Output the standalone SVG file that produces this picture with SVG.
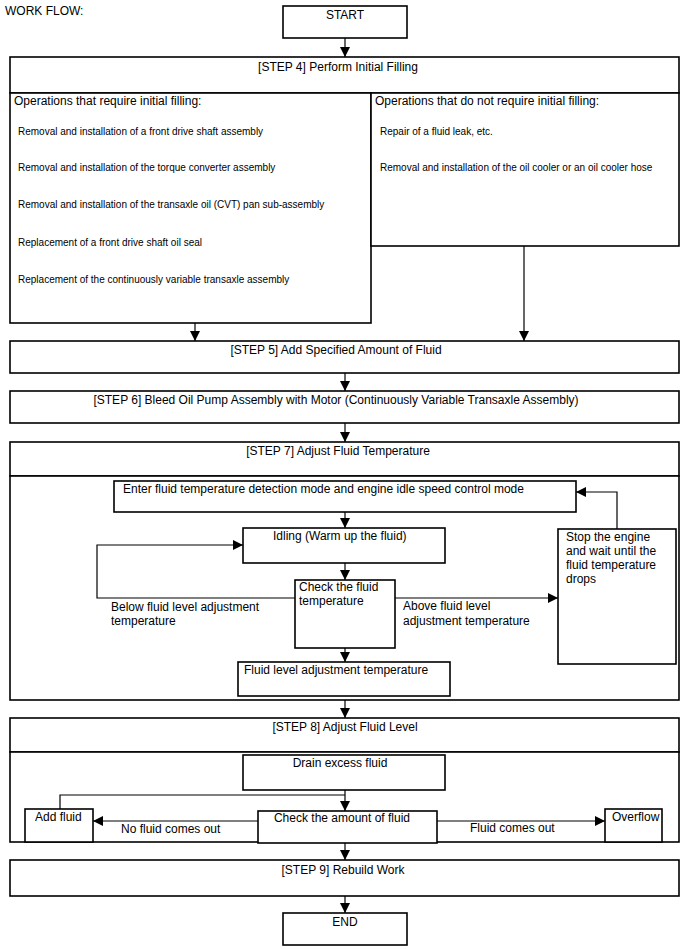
<svg xmlns="http://www.w3.org/2000/svg" width="688" height="949" viewBox="0 0 688 949">
<style>
rect{fill:#fff;stroke:#000;stroke-width:1.6}
text{font-family:"Liberation Sans",Arial,sans-serif;font-size:12px;fill:#000}
.c{text-anchor:middle}
.s{font-size:10px}
.ln{fill:none;stroke:#000;stroke-width:1.2}
</style>
<defs>
<marker id="ar" viewBox="0 0 10 10" refX="10" refY="5" markerWidth="10" markerHeight="10" markerUnits="userSpaceOnUse" orient="auto">
<path d="M0,0 L10,5 L0,10 z" fill="#000"/>
</marker>
</defs>
<text x="5" y="15">WORK FLOW:</text>
<g id="start"><rect x="283" y="6" width="124" height="32"/><text class="c" x="345" y="19">START</text></g>
<g id="step4">
<rect x="10" y="57" width="669" height="36"/><text class="c" x="338" y="71">[STEP 4] Perform Initial Filling</text>
</g>
<g id="req">
<rect x="10" y="93" width="361" height="230"/>
<text x="14" y="105">Operations that require initial filling:</text>
<text class="s" x="18" y="135">Removal and installation of a front drive shaft assembly</text>
<text class="s" x="18" y="171">Removal and installation of the torque converter assembly</text>
<text class="s" x="18" y="208">Removal and installation of the transaxle oil (CVT) pan sub-assembly</text>
<text class="s" x="18" y="246">Replacement of a front drive shaft oil seal</text>
<text class="s" x="18" y="283">Replacement of the continuously variable transaxle assembly</text>
</g>
<g id="noreq">
<rect x="371" y="93" width="308" height="153"/>
<text x="375" y="105">Operations that do not require initial filling:</text>
<text class="s" x="380" y="135">Repair of a fluid leak, etc.</text>
<text class="s" x="380" y="171">Removal and installation of the oil cooler or an oil cooler hose</text>
</g>
<g id="step5"><rect x="10" y="341" width="669" height="32"/><text class="c" x="336" y="354">[STEP 5] Add Specified Amount of Fluid</text></g>
<g id="step6"><rect x="10" y="391" width="669" height="32"/><text class="c" x="336" y="404">[STEP 6] Bleed Oil Pump Assembly with Motor (Continuously Variable Transaxle Assembly)</text></g>
<g id="step7">
<rect x="10" y="442" width="669" height="34"/><text class="c" x="338" y="455">[STEP 7] Adjust Fluid Temperature</text>
<rect x="10" y="476" width="669" height="224"/>
</g>
<g id="enter"><rect x="114" y="481" width="462" height="31"/><text x="123" y="493">Enter fluid temperature detection mode and engine idle speed control mode</text></g>
<g id="idling"><rect x="243" y="528" width="202" height="35"/><text x="273" y="540">Idling (Warm up the fluid)</text></g>
<g id="checktemp"><rect x="295" y="580" width="100" height="68"/><text x="299" y="591">Check the fluid</text><text x="299" y="605">temperature</text></g>
<g id="fltemp"><rect x="238" y="662" width="212" height="34"/><text x="244" y="674">Fluid level adjustment temperature</text></g>
<g id="stop"><rect x="558" y="529" width="118" height="135"/>
<text x="566" y="541">Stop the engine</text><text x="566" y="555">and wait until the</text><text x="566" y="569">fluid temperature</text><text x="566" y="583">drops</text></g>
<g id="step8">
<rect x="10" y="718" width="669" height="34"/><text class="c" x="345" y="731">[STEP 8] Adjust Fluid Level</text>
<rect x="10" y="752" width="669" height="90"/>
</g>
<g id="drain"><rect x="243" y="755" width="202" height="35"/><text class="c" x="340" y="767">Drain excess fluid</text></g>
<g id="checkamt"><rect x="258" y="811" width="179" height="32"/><text class="c" x="342" y="822">Check the amount of fluid</text></g>
<g id="addfluid"><rect x="25" y="809" width="68" height="33"/><text x="35" y="821">Add fluid</text></g>
<g id="overflow"><rect x="605" y="809" width="57" height="33"/><text x="612" y="821">Overflow</text></g>
<g id="step9"><rect x="10" y="860" width="669" height="36"/><text class="c" x="343" y="874">[STEP 9] Rebuild Work</text></g>
<g id="end"><rect x="283" y="913" width="124" height="32"/><text class="c" x="345" y="926">END</text></g>
<g id="connectors">
<path class="ln" d="M345,38 V57" marker-end="url(#ar)"/>
<path class="ln" d="M195,323 V341" marker-end="url(#ar)"/>
<path class="ln" d="M524,246 V341" marker-end="url(#ar)"/>
<path class="ln" d="M345,373 V391" marker-end="url(#ar)"/>
<path class="ln" d="M345,423 V442" marker-end="url(#ar)"/>
<path class="ln" d="M345,512 V528" marker-end="url(#ar)"/>
<path class="ln" d="M345,563 V580" marker-end="url(#ar)"/>
<path class="ln" d="M345,648 V662" marker-end="url(#ar)"/>
<path class="ln" d="M295,598 H97 V545 H243" marker-end="url(#ar)"/>
<path class="ln" d="M395,598 H558" marker-end="url(#ar)"/>
<path class="ln" d="M617,529 V492 H576" marker-end="url(#ar)"/>
<path class="ln" d="M345,700 V718" marker-end="url(#ar)"/>
<path class="ln" d="M345,790 V811" marker-end="url(#ar)"/>
<path class="ln" d="M60,809 V795 H345"/>
<path class="ln" d="M258,821 H93" marker-end="url(#ar)"/>
<path class="ln" d="M437,821 H605" marker-end="url(#ar)"/>
<path class="ln" d="M345,843 V860" marker-end="url(#ar)"/>
<path class="ln" d="M345,896 V913" marker-end="url(#ar)"/>
</g>
<text x="111" y="611">Below fluid level adjustment</text>
<text x="111" y="625">temperature</text>
<text x="403" y="610">Above fluid level</text>
<text x="403" y="625">adjustment temperature</text>
<text x="121" y="833">No fluid comes out</text>
<text x="470" y="832">Fluid comes out</text>
</svg>
